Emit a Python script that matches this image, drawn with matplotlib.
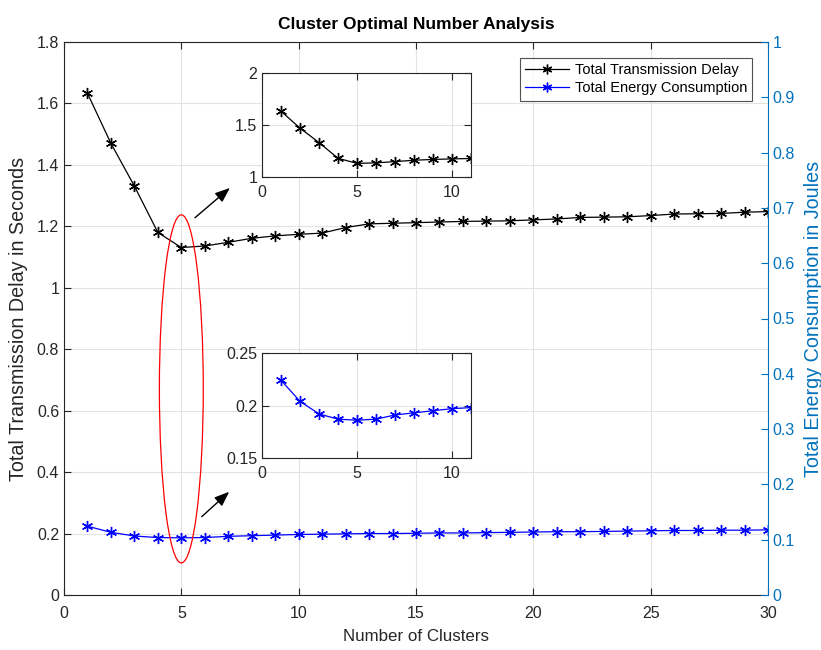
import matplotlib
matplotlib.use("Agg")
import matplotlib.pyplot as plt
from matplotlib.patches import Ellipse
from matplotlib.lines import Line2D

plt.rcParams['font.family'] = ['Liberation Sans', 'DejaVu Sans']

clusters = list(range(1, 31))
delay = [1.633, 1.470, 1.331, 1.180, 1.131, 1.136, 1.148, 1.161, 1.169, 1.174,
         1.178, 1.196, 1.208, 1.210, 1.212, 1.214, 1.216, 1.217, 1.218, 1.221,
         1.224, 1.229, 1.230, 1.231, 1.235, 1.240, 1.241, 1.242, 1.246, 1.248]
energy = [0.224, 0.204, 0.192, 0.187, 0.186, 0.187, 0.191, 0.193, 0.195, 0.197,
          0.198, 0.199, 0.200, 0.200, 0.201, 0.202, 0.202, 0.203, 0.204, 0.205,
          0.206, 0.206, 0.207, 0.208, 0.209, 0.210, 0.210, 0.211, 0.211, 0.212]
inset_n = 11

title = "Cluster Optimal Number Analysis"
xlabel = "Number of Clusters"
ylabel_left = "Total Transmission Delay in Seconds"
ylabel_right = "Total Energy Consumption in Joules"
legend_labels = ["Total Transmission Delay", "Total Energy Consumption"]

mblue = '#0072BD'
axcol = '#262626'
gridcol = '#e3e3e3'
ast = (6, 2, 0)
FS = 11.5

W, H = 821, 650
fig = plt.figure(figsize=(W / 100, H / 100), dpi=100)

def fx(px):
    return px / W

def fy(py):
    return 1 - py / H

ax = fig.add_axes([fx(64), fy(595), fx(768) - fx(64), fy(42) - fy(595)])

def style(a, fs=FS, xpad=6):
    for s in a.spines.values():
        s.set_color(axcol)
        s.set_linewidth(0.8)
    a.tick_params(direction='in', colors=axcol, labelcolor='#262626', labelsize=fs,
                  length=5, width=0.8, top=True)
    a.tick_params(axis='x', pad=xpad)
    a.grid(True, color=gridcol, linewidth=0.8)
    a.set_axisbelow(True)

ax.plot(clusters, delay, color='k', lw=0.9, marker=ast, ms=8, mew=1.0)
ax.plot(clusters, energy, color='b', lw=0.9, marker=ast, ms=8, mew=1.0)
ax.set_xlim(0, 30)
ax.set_ylim(0, 1.8)
ax.set_xticks([0, 5, 10, 15, 20, 25, 30])
ax.set_yticks([0, 0.2, 0.4, 0.6, 0.8, 1, 1.2, 1.4, 1.6, 1.8])
ax.set_yticklabels(['0', '0.2', '0.4', '0.6', '0.8', '1', '1.2', '1.4', '1.6', '1.8'])
style(ax, xpad=8)
ax.spines['right'].set_visible(False)
ax.tick_params(axis='y', right=False)
ax.set_xlabel(xlabel, fontsize=12.2, color='#262626', labelpad=6)
ax.set_ylabel(ylabel_left, fontsize=14.2, color='#262626', labelpad=6)
ax.set_title(title, fontsize=12.5, fontweight='bold', pad=9)

ax2 = ax.twinx()
ax2.set_ylim(0, 1)
ax2.set_yticks([i / 10 for i in range(11)])
ax2.set_yticklabels(['0', '0.1', '0.2', '0.3', '0.4', '0.5', '0.6', '0.7', '0.8', '0.9', '1'])
for s in ['left', 'top', 'bottom']:
    ax2.spines[s].set_visible(False)
ax2.spines['right'].set_color(mblue)
ax2.spines['right'].set_linewidth(0.8)
ax2.tick_params(axis='y', direction='in', colors=mblue, labelcolor=mblue, labelsize=FS,
                length=5, width=0.8)
ax2.set_ylabel(ylabel_right, fontsize=14.2, color=mblue, labelpad=6)

# red ellipse
ax.add_patch(Ellipse((5, 0.671), 1.87, 1.133, fill=False, edgecolor='r', lw=0.9, zorder=5))

# arrows
ax.annotate('', xy=(7.07, 1.325), xytext=(5.58, 1.228),
            arrowprops=dict(arrowstyle='-|>,head_length=0.9,head_width=0.35', color='k',
                            lw=1.0, shrinkA=0, shrinkB=0))
ax.annotate('', xy=(7.04, 0.336), xytext=(5.87, 0.255),
            arrowprops=dict(arrowstyle='-|>,head_length=0.9,head_width=0.35', color='k',
                            lw=1.0, shrinkA=0, shrinkB=0))

# legend
handles = [Line2D([], [], color='k', lw=0.9, marker=ast, ms=7, mew=1.0),
           Line2D([], [], color='b', lw=0.9, marker=ast, ms=7, mew=1.0)]
leg = fig.legend(handles, legend_labels, loc='upper right',
                 bbox_to_anchor=(fx(752), fy(58)), bbox_transform=fig.transFigure,
                 fontsize=10.5, frameon=True, fancybox=False, borderaxespad=0,
                 handlelength=3.0, handletextpad=0.4, borderpad=0.35, labelspacing=0.3)
leg.get_frame().set_edgecolor('#262626')
leg.get_frame().set_linewidth(0.8)

# inset 1
ins1 = fig.add_axes([fx(262), fy(177), fx(471) - fx(262), fy(73) - fy(177)])
ins1.plot(clusters[:inset_n], delay[:inset_n], color='k', lw=0.9, marker=ast, ms=8, mew=1.0)
ins1.set_xlim(0, 11)
ins1.set_ylim(1, 2)
ins1.set_xticks([0, 5, 10])
ins1.set_yticks([1, 1.5, 2])
ins1.set_yticklabels(['1', '1.5', '2'])
style(ins1)
ins1.tick_params(right=True)

# inset 2
ins2 = fig.add_axes([fx(262), fy(458), fx(471) - fx(262), fy(353) - fy(458)])
ins2.plot(clusters[:inset_n], energy[:inset_n], color='b', lw=0.9, marker=ast, ms=8, mew=1.0)
ins2.set_xlim(0, 11)
ins2.set_ylim(0.15, 0.25)
ins2.set_xticks([0, 5, 10])
ins2.set_yticks([0.15, 0.2, 0.25])
ins2.set_yticklabels(['0.15', '0.2', '0.25'])
style(ins2)
ins2.tick_params(right=True)

fig.savefig('out.png', dpi=100)
